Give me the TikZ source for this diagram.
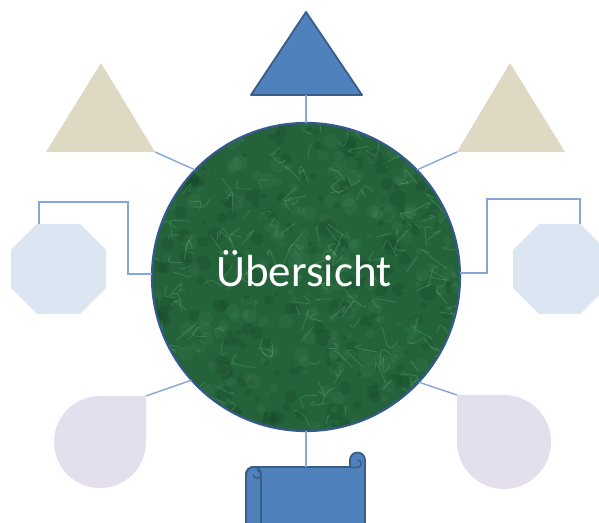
\documentclass[tikz,border=0pt]{standalone}
\usepackage{fontspec}
\newfontfamily\calibri{Carlito}
\begin{document}
\begin{tikzpicture}[x=1pt,y=1pt,
  conn/.style={draw=connblue,line width=1.4pt},
  darkshape/.style={fill=shapeblue,draw=shapeedge,line width=1.8pt,line join=round},
  tanshape/.style={fill=tanfill},
  octshape/.style={fill=octfill},
  dropshape/.style={fill=dropfill},
  vein/.style={draw=veinlight,line width=0.8pt,opacity=0.28,line cap=round},
  lightblot/.style={fill=veinlight,opacity=0.08},
  darkblot/.style={fill=hubdark,opacity=0.18}]
\definecolor{connblue}{HTML}{86A7D4}
\definecolor{shapeblue}{HTML}{4F81BD}
\definecolor{shapeedge}{HTML}{385D8A}
\definecolor{tanfill}{HTML}{DDD9C3}
\definecolor{octfill}{HTML}{DCE6F2}
\definecolor{dropfill}{HTML}{E4DFEC}
\definecolor{hubgreen}{HTML}{24623A}
\definecolor{hubdark}{HTML}{0F3A1E}
\definecolor{veinlight}{HTML}{7CC592}
\definecolor{hubedge}{HTML}{34598C}
\useasboundingbox (0,0) rectangle (599,522);
\fill[white] (0,0) rectangle (599,522);

% hub circle with marble texture
\node[circle,minimum size=308pt,inner sep=0pt,fill=hubgreen] (hub) at (306,245) {};
\begin{scope}
  \clip (306,245) circle (154);
  \pgfmathsetseed{11}
  \foreach \i in {1,...,220}{
    \fill[darkblot] (306+rand*156,245+rand*156) circle ({2+7*rnd});
  }
  \foreach \i in {1,...,260}{
    \fill[lightblot] (306+rand*156,245+rand*156) circle ({2+6*rnd});
  }
  \foreach \i in {1,...,200}{
    \draw[vein] (306+rand*152,245+rand*152) .. controls ++(rand*12,rand*12) .. ++(rand*18,rand*18);
  }
\end{scope}
\draw[hubedge,line width=2.2pt] (306,245) circle (154);
\node[anchor=base,text=white,inner sep=0pt,font=\calibri\fontsize{45}{54}\selectfont] (label) at (304,235) {Übersicht};

% top triangle
\draw[darkshape] (306,510) -- (362,427) -- (251,427) -- cycle;
\coordinate (topT) at (306,427);
\draw[conn] (topT) -- (hub.north);

% tan triangles
\fill[tanshape] (101,459) -- (155,370) -- (46,370) -- cycle;
\coordinate (tanL) at (155,370);
\draw[conn] (tanL) -- (hub.136);
\fill[tanshape] (510,459) -- (565,370) -- (457,370) -- cycle;
\coordinate (tanR) at (457,370);
\draw[conn] (tanR) -- (hub.44.7);

% octagons
\fill[octshape] (11,234) -- (11,272) -- (37,298) -- (80,298) -- (106,272) -- (106,234) -- (80,208) -- (37,208) -- cycle;
\coordinate (octL) at (39,298);
\coordinate (hubW) at (152,248);
\draw[conn] (octL) -- (39,320) -- (128,320) -- (128,248) -- (hubW);
\fill[octshape] (513,234) -- (513,272) -- (539,298) -- (580,298) -- (606,272) -- (606,234) -- (580,208) -- (539,208) -- cycle;
\coordinate (octR) at (580,298);
\coordinate (hubE) at (460,249);
\draw[conn] (octR) -- (580,323) -- (487,323) -- (487,249) -- (hubE);

% teardrops
\fill[dropshape] (146,126) -- (146,80) arc[start angle=0,end angle=-270,radius=46] -- cycle;
\coordinate (dropL) at (146,126);
\draw[conn] (dropL) -- (hub.222.3);
\fill[dropshape] (457,127) -- (504,127) arc[start angle=90,end angle=-180,radius=47] -- cycle;
\coordinate (dropR) at (457,127);
\draw[conn] (dropR) -- (hub.317);

% scroll
\draw[darkshape] (246,-10) -- (246,47.5) arc[start angle=180,end angle=90,radius=7.5] -- (350,55) -- (350,62) arc[start angle=180,end angle=0,radius=7.5] -- (365,-10);
\draw[shapeedge,line width=1.8pt] (261,-10) -- (261,47.5) arc[start angle=0,end angle=180,radius=7.5];
\draw[shapeedge,line width=1.5pt] (253.5,47.5) arc[start angle=180,end angle=360,radius=3.75] arc[start angle=0,end angle=90,radius=3.75];
\draw[shapeedge,line width=1.5pt] (357.5,62) arc[start angle=90,end angle=-90,radius=3.75] -- (350,54.5);
\coordinate (scrollT) at (306,55);
\draw[conn] (hub.south) -- (scrollT);
\end{tikzpicture}
\end{document}
